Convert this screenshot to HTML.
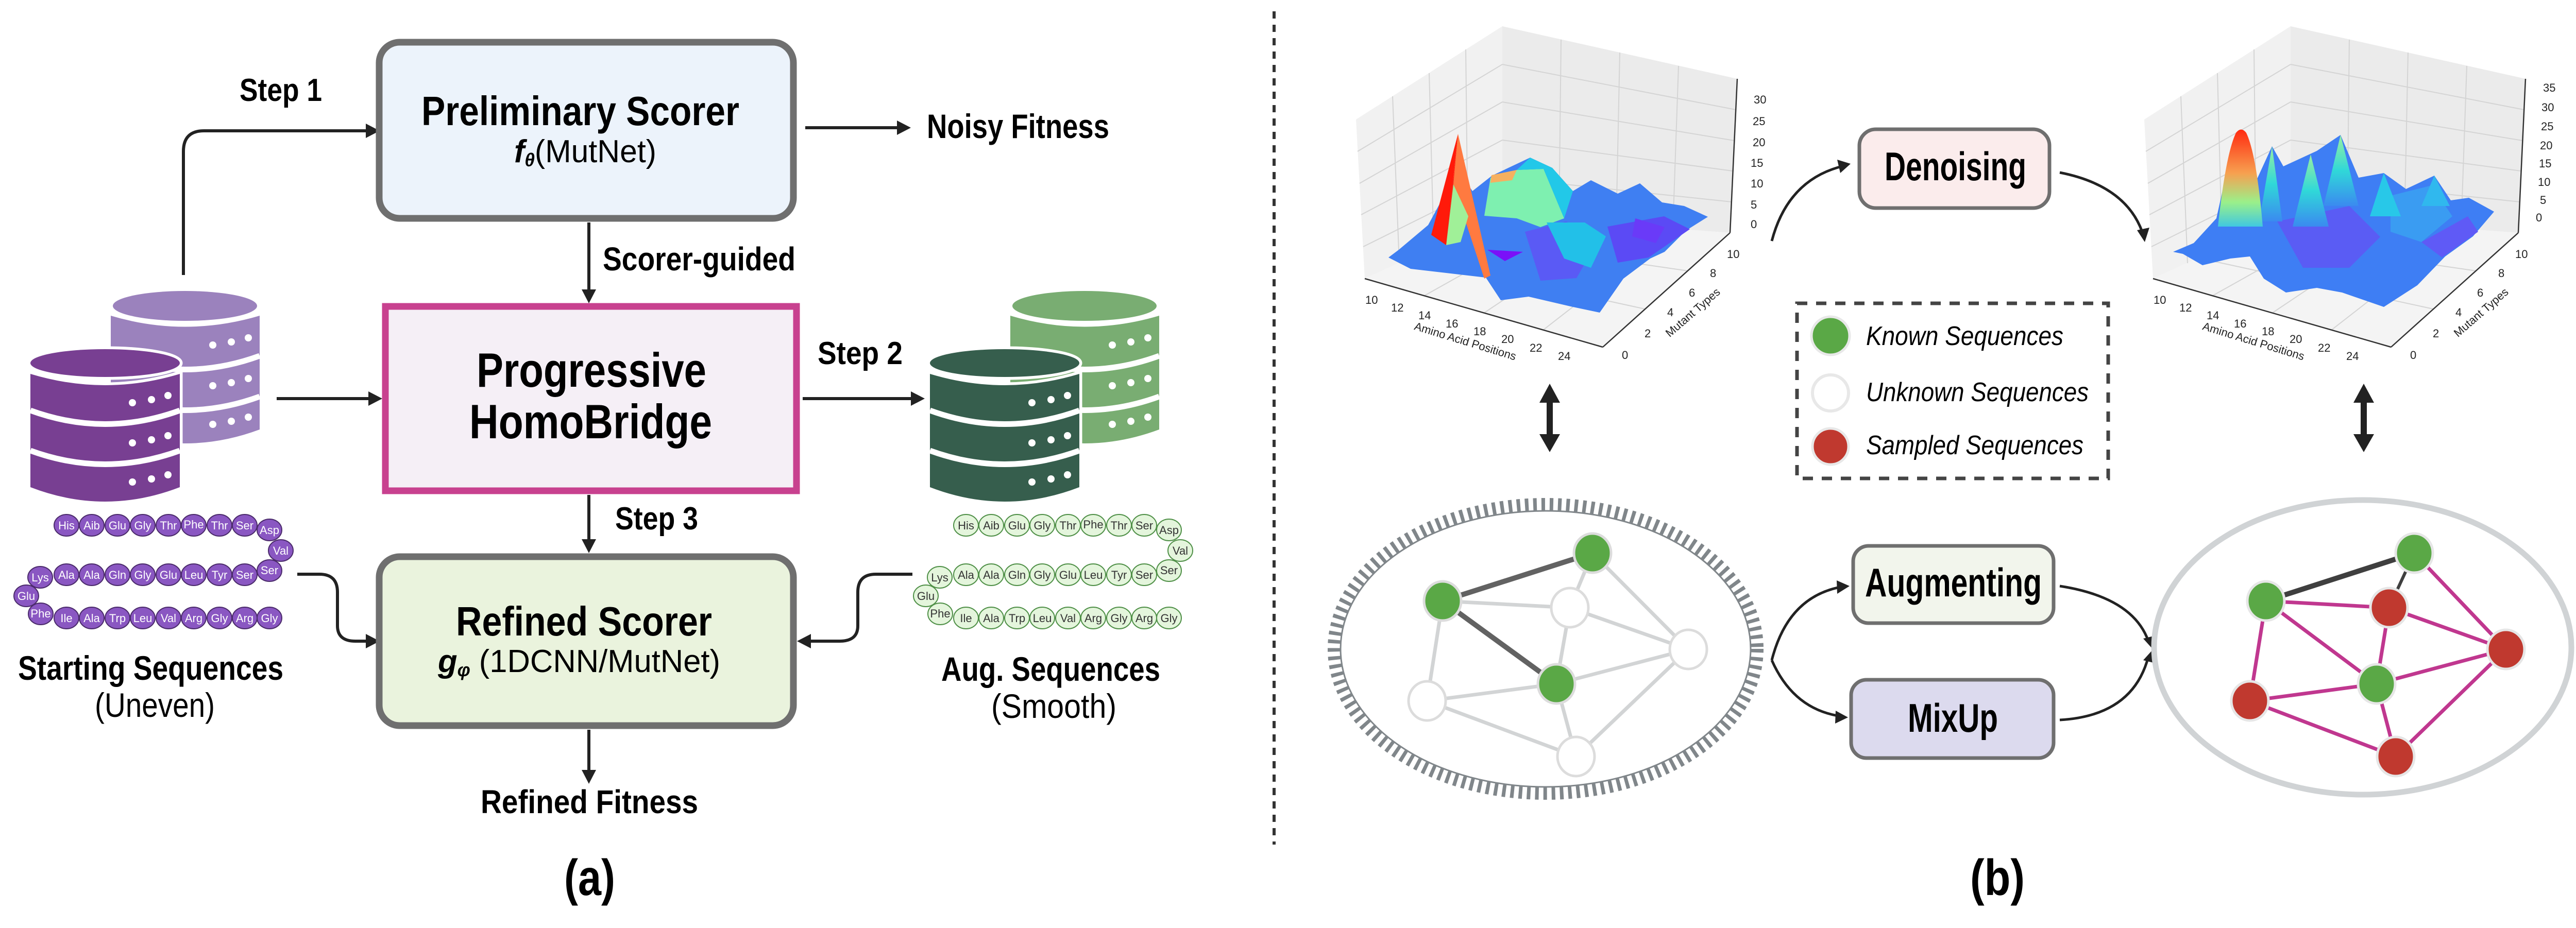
<!DOCTYPE html>
<html><head><meta charset="utf-8"><style>
html,body{margin:0;padding:0;background:#fff}
svg{display:block}
text{font-family:"Liberation Sans",sans-serif}
.b{font-weight:bold}
.pp text{font-size:22px;text-anchor:middle}
.tk{font-size:22px;fill:#222}
</style></head><body>
<svg width="5025" height="1802" viewBox="0 0 5025 1802" xmlns="http://www.w3.org/2000/svg">
<defs>
<linearGradient id="spk" x1="0" y1="0" x2="0" y2="1"><stop offset="0" stop-color="#ff2a10"/><stop offset="0.45" stop-color="#f7a050"/><stop offset="0.75" stop-color="#9af08a"/><stop offset="1" stop-color="#40c8e0"/></linearGradient>
<linearGradient id="gp" x1="0" y1="0" x2="0" y2="1"><stop offset="0" stop-color="#9af0a0"/><stop offset="0.5" stop-color="#30d8d8"/><stop offset="1" stop-color="#3a8af0"/></linearGradient>
</defs>

<!-- ============ PART A ============ -->
<g stroke="#222" stroke-width="6" fill="none">
<path d="M356,534 L356,294 Q356,254 396,254 L712,254"/>
<path d="M1563,248 L1745,248"/>
<path d="M1143,432 L1143,564"/>
<path d="M537,774 L718,774"/>
<path d="M1558,774 L1770,774"/>
<path d="M1143,961 L1143,1050"/>
<path d="M1143,1417 L1143,1498"/>
<path d="M577,1115 L620,1115 Q655,1115 655,1150 L655,1215 Q655,1245 690,1245 L714,1245"/>
<path d="M1771,1115 L1700,1115 Q1665,1115 1665,1150 L1665,1215 Q1665,1245 1630,1245 L1570,1245"/>
</g>
<g fill="#222">
<polygon points="737,254 710,240 710,268"/>
<polygon points="1768,248 1741,234 1741,262"/>
<polygon points="1143,589 1129,562 1157,562"/>
<polygon points="742,774 715,760 715,788"/>
<polygon points="1795,774 1768,760 1768,788"/>
<polygon points="1143,1074 1129,1047 1157,1047"/>
<polygon points="1143,1522 1129,1495 1157,1495"/>
<polygon points="737,1245 710,1231 710,1259"/>
<polygon points="1547,1245 1574,1231 1574,1259"/>
</g>

<rect x="736" y="82" width="804" height="342" rx="40" fill="#ecf3fb" stroke="#6f6f6f" stroke-width="13"/>
<rect x="748" y="595" width="798" height="358" fill="#f5eff6" stroke="#c8418f" stroke-width="13"/>
<rect x="736" y="1081" width="804" height="328" rx="40" fill="#eaf3dd" stroke="#6f6f6f" stroke-width="13"/>

<text class="b" x="818" y="243" font-size="80" textLength="617" lengthAdjust="spacingAndGlyphs">Preliminary Scorer</text>
<text x="998" y="315" font-size="62" textLength="276" lengthAdjust="spacingAndGlyphs"><tspan font-weight="bold" font-style="italic">f</tspan><tspan font-weight="bold" font-style="italic" font-size="36" dy="8">θ</tspan><tspan dy="-8">(MutNet)</tspan></text>
<text class="b" x="925" y="751" font-size="94" textLength="446" lengthAdjust="spacingAndGlyphs">Progressive</text>
<text class="b" x="911" y="851" font-size="94" textLength="471" lengthAdjust="spacingAndGlyphs">HomoBridge</text>
<text class="b" x="885" y="1234" font-size="80" textLength="497" lengthAdjust="spacingAndGlyphs">Refined Scorer</text>
<text x="850" y="1305" font-size="62" textLength="548" lengthAdjust="spacingAndGlyphs"><tspan font-weight="bold" font-style="italic">g</tspan><tspan font-weight="bold" font-style="italic" font-size="36" dy="8">φ</tspan><tspan dy="-8">  (1DCNN/MutNet)</tspan></text>

<text class="b" x="465" y="196" font-size="62" textLength="160" lengthAdjust="spacingAndGlyphs">Step 1</text>
<text class="b" x="1799" y="268" font-size="66" textLength="354" lengthAdjust="spacingAndGlyphs">Noisy Fitness</text>
<text class="b" x="1170" y="525" font-size="64" textLength="374" lengthAdjust="spacingAndGlyphs">Scorer-guided</text>
<text class="b" x="1587" y="707" font-size="62" textLength="165" lengthAdjust="spacingAndGlyphs">Step 2</text>
<text class="b" x="1194" y="1028" font-size="62" textLength="161" lengthAdjust="spacingAndGlyphs">Step 3</text>
<text class="b" x="933" y="1579" font-size="64" textLength="422" lengthAdjust="spacingAndGlyphs">Refined  Fitness</text>
<text class="b" x="35" y="1320" font-size="66" textLength="515" lengthAdjust="spacingAndGlyphs">Starting Sequences</text>
<text x="184" y="1392" font-size="66" textLength="233" lengthAdjust="spacingAndGlyphs">(Uneven)</text>
<text class="b" x="1827" y="1322" font-size="66" textLength="425" lengthAdjust="spacingAndGlyphs">Aug. Sequences</text>
<text x="1924" y="1394" font-size="66" textLength="243" lengthAdjust="spacingAndGlyphs">(Smooth)</text>
<text class="b" x="1095" y="1738" font-size="98" textLength="99" lengthAdjust="spacingAndGlyphs">(a)</text>

<!-- databases left -->
<g>
<g fill="#9b82bd">
<ellipse cx="359" cy="594" rx="140" ry="29"/>
<path d="M215,613 Q359,656 504,613 L504,834 Q359,888 215,834 Z"/>
</g>
<g stroke="#fff" stroke-width="11" fill="none">
<path d="M215,691 Q359,744 504,691"/><path d="M215,770 Q359,823 504,770"/>
</g>
<g fill="#fff"><circle cx="413" cy="670" r="7"/><circle cx="449" cy="664" r="7"/><circle cx="482" cy="656" r="7"/>
<circle cx="413" cy="749" r="7"/><circle cx="449" cy="743" r="7"/><circle cx="482" cy="735" r="7"/>
<circle cx="413" cy="824" r="7"/><circle cx="449" cy="818" r="7"/><circle cx="482" cy="810" r="7"/></g>
<g fill="#783f92" stroke="#fff" stroke-width="11" paint-order="stroke">
<path d="M59,726 Q204,770 349,726 L349,946 Q204,1002 59,946 Z"/>
<ellipse cx="204" cy="705" rx="145" ry="27"/>
</g>
<g stroke="#fff" stroke-width="11" fill="none">
<path d="M59,797 Q204,850 349,797"/><path d="M59,875 Q204,928 349,875"/>
</g>
<g fill="#fff"><circle cx="257" cy="782" r="7"/><circle cx="294" cy="776" r="7"/><circle cx="326" cy="768" r="7"/>
<circle cx="257" cy="860" r="7"/><circle cx="294" cy="854" r="7"/><circle cx="326" cy="846" r="7"/>
<circle cx="257" cy="936" r="7"/><circle cx="294" cy="930" r="7"/><circle cx="326" cy="922" r="7"/></g>
</g>
<g transform="translate(1746,0)">
<g fill="#79ad72">
<ellipse cx="359" cy="594" rx="140" ry="29"/>
<path d="M215,613 Q359,656 504,613 L504,834 Q359,888 215,834 Z"/>
</g>
<g stroke="#fff" stroke-width="11" fill="none">
<path d="M215,691 Q359,744 504,691"/><path d="M215,770 Q359,823 504,770"/>
</g>
<g fill="#fff"><circle cx="413" cy="670" r="7"/><circle cx="449" cy="664" r="7"/><circle cx="482" cy="656" r="7"/>
<circle cx="413" cy="749" r="7"/><circle cx="449" cy="743" r="7"/><circle cx="482" cy="735" r="7"/>
<circle cx="413" cy="824" r="7"/><circle cx="449" cy="818" r="7"/><circle cx="482" cy="810" r="7"/></g>
<g fill="#365e4d" stroke="#fff" stroke-width="11" paint-order="stroke">
<path d="M59,726 Q204,770 349,726 L349,946 Q204,1002 59,946 Z"/>
<ellipse cx="204" cy="705" rx="145" ry="27"/>
</g>
<g stroke="#fff" stroke-width="11" fill="none">
<path d="M59,797 Q204,850 349,797"/><path d="M59,875 Q204,928 349,875"/>
</g>
<g fill="#fff"><circle cx="257" cy="782" r="7"/><circle cx="294" cy="776" r="7"/><circle cx="326" cy="768" r="7"/>
<circle cx="257" cy="860" r="7"/><circle cx="294" cy="854" r="7"/><circle cx="326" cy="846" r="7"/>
<circle cx="257" cy="936" r="7"/><circle cx="294" cy="930" r="7"/><circle cx="326" cy="922" r="7"/></g>
</g>

<!-- peptide chains left -->
<g class="pp">
<g fill="#8a57c2" stroke="#4a2a6a" stroke-width="2">
<ellipse cx="129" cy="1020" rx="24" ry="21"/><ellipse cx="178" cy="1020" rx="24" ry="21"/><ellipse cx="228" cy="1020" rx="24" ry="21"/><ellipse cx="277" cy="1020" rx="24" ry="21"/><ellipse cx="327" cy="1020" rx="24" ry="21"/><ellipse cx="376" cy="1020" rx="24" ry="21"/><ellipse cx="426" cy="1020" rx="24" ry="21"/><ellipse cx="475" cy="1020" rx="24" ry="21"/><ellipse cx="523" cy="1029" rx="24" ry="21"/>
<ellipse cx="545" cy="1069" rx="24" ry="21"/>
<ellipse cx="523" cy="1108" rx="24" ry="21"/><ellipse cx="475" cy="1116" rx="24" ry="21"/><ellipse cx="426" cy="1116" rx="24" ry="21"/><ellipse cx="376" cy="1116" rx="24" ry="21"/><ellipse cx="327" cy="1116" rx="24" ry="21"/><ellipse cx="277" cy="1116" rx="24" ry="21"/><ellipse cx="228" cy="1116" rx="24" ry="21"/><ellipse cx="178" cy="1116" rx="24" ry="21"/><ellipse cx="129" cy="1116" rx="24" ry="21"/><ellipse cx="78" cy="1121" rx="24" ry="21"/>
<ellipse cx="51" cy="1157" rx="24" ry="21"/>
<ellipse cx="79" cy="1192" rx="24" ry="21"/><ellipse cx="129" cy="1200" rx="24" ry="21"/><ellipse cx="178" cy="1200" rx="24" ry="21"/><ellipse cx="228" cy="1200" rx="24" ry="21"/><ellipse cx="277" cy="1200" rx="24" ry="21"/><ellipse cx="327" cy="1200" rx="24" ry="21"/><ellipse cx="376" cy="1200" rx="24" ry="21"/><ellipse cx="426" cy="1200" rx="24" ry="21"/><ellipse cx="475" cy="1200" rx="24" ry="21"/><ellipse cx="523" cy="1200" rx="24" ry="21"/>
</g>
<g fill="#fff">
<text x="129" y="1028">His</text><text x="178" y="1028">Aib</text><text x="228" y="1028">Glu</text><text x="277" y="1028">Gly</text><text x="327" y="1028">Thr</text><text x="376" y="1026">Phe</text><text x="426" y="1028">Thr</text><text x="475" y="1028">Ser</text><text x="523" y="1037">Asp</text>
<text x="545" y="1077">Val</text>
<text x="523" y="1115">Ser</text><text x="475" y="1124">Ser</text><text x="426" y="1124">Tyr</text><text x="376" y="1124">Leu</text><text x="327" y="1124">Glu</text><text x="277" y="1124">Gly</text><text x="228" y="1124">Gln</text><text x="178" y="1124">Ala</text><text x="129" y="1124">Ala</text><text x="78" y="1129">Lys</text>
<text x="51" y="1165">Glu</text>
<text x="79" y="1199">Phe</text><text x="129" y="1208">Ile</text><text x="178" y="1208">Ala</text><text x="228" y="1208">Trp</text><text x="277" y="1208">Leu</text><text x="327" y="1208">Val</text><text x="376" y="1208">Arg</text><text x="426" y="1208">Gly</text><text x="475" y="1208">Arg</text><text x="523" y="1208">Gly</text>
</g>
</g>
<g class="pp" transform="translate(1746,0)">
<g fill="#e4f5dc" stroke="#4e8f46" stroke-width="2">
<ellipse cx="129" cy="1020" rx="24" ry="21"/><ellipse cx="178" cy="1020" rx="24" ry="21"/><ellipse cx="228" cy="1020" rx="24" ry="21"/><ellipse cx="277" cy="1020" rx="24" ry="21"/><ellipse cx="327" cy="1020" rx="24" ry="21"/><ellipse cx="376" cy="1020" rx="24" ry="21"/><ellipse cx="426" cy="1020" rx="24" ry="21"/><ellipse cx="475" cy="1020" rx="24" ry="21"/><ellipse cx="523" cy="1029" rx="24" ry="21"/>
<ellipse cx="545" cy="1069" rx="24" ry="21"/>
<ellipse cx="523" cy="1108" rx="24" ry="21"/><ellipse cx="475" cy="1116" rx="24" ry="21"/><ellipse cx="426" cy="1116" rx="24" ry="21"/><ellipse cx="376" cy="1116" rx="24" ry="21"/><ellipse cx="327" cy="1116" rx="24" ry="21"/><ellipse cx="277" cy="1116" rx="24" ry="21"/><ellipse cx="228" cy="1116" rx="24" ry="21"/><ellipse cx="178" cy="1116" rx="24" ry="21"/><ellipse cx="129" cy="1116" rx="24" ry="21"/><ellipse cx="78" cy="1121" rx="24" ry="21"/>
<ellipse cx="51" cy="1157" rx="24" ry="21"/>
<ellipse cx="79" cy="1192" rx="24" ry="21"/><ellipse cx="129" cy="1200" rx="24" ry="21"/><ellipse cx="178" cy="1200" rx="24" ry="21"/><ellipse cx="228" cy="1200" rx="24" ry="21"/><ellipse cx="277" cy="1200" rx="24" ry="21"/><ellipse cx="327" cy="1200" rx="24" ry="21"/><ellipse cx="376" cy="1200" rx="24" ry="21"/><ellipse cx="426" cy="1200" rx="24" ry="21"/><ellipse cx="475" cy="1200" rx="24" ry="21"/><ellipse cx="523" cy="1200" rx="24" ry="21"/>
</g>
<g fill="#333">
<text x="129" y="1028">His</text><text x="178" y="1028">Aib</text><text x="228" y="1028">Glu</text><text x="277" y="1028">Gly</text><text x="327" y="1028">Thr</text><text x="376" y="1026">Phe</text><text x="426" y="1028">Thr</text><text x="475" y="1028">Ser</text><text x="523" y="1037">Asp</text>
<text x="545" y="1077">Val</text>
<text x="523" y="1115">Ser</text><text x="475" y="1124">Ser</text><text x="426" y="1124">Tyr</text><text x="376" y="1124">Leu</text><text x="327" y="1124">Glu</text><text x="277" y="1124">Gly</text><text x="228" y="1124">Gln</text><text x="178" y="1124">Ala</text><text x="129" y="1124">Ala</text><text x="78" y="1129">Lys</text>
<text x="51" y="1165">Glu</text>
<text x="79" y="1199">Phe</text><text x="129" y="1208">Ile</text><text x="178" y="1208">Ala</text><text x="228" y="1208">Trp</text><text x="277" y="1208">Leu</text><text x="327" y="1208">Val</text><text x="376" y="1208">Arg</text><text x="426" y="1208">Gly</text><text x="475" y="1208">Arg</text><text x="523" y="1208">Gly</text>
</g>
</g>

<line x1="2473" y1="22" x2="2473" y2="1640" stroke="#333" stroke-width="6" stroke-dasharray="14 12"/>

<!-- ============ PART B ============ -->
<g>
<polygon points="2632,232 2916,51 2916,419 2649,541" fill="#f1f1f1"/>
<polygon points="2916,51 3372,153 3358,452 2916,419" fill="#ebebeb"/>
<polygon points="2649,541 2916,419 3358,452 3111,674" fill="#f4f4f4"/>
<g stroke="#d4d4d4" stroke-width="2" fill="none">
<line x1="3030" y1="77" x2="3026" y2="427"/><line x1="3144" y1="102" x2="3137" y2="436"/><line x1="3258" y1="128" x2="3247" y2="444"/>
<line x1="2916" y1="125" x2="3369" y2="213"/><line x1="2916" y1="198" x2="3366" y2="273"/><line x1="2916" y1="272" x2="3363" y2="332"/><line x1="2916" y1="345" x2="3361" y2="392"/>
<line x1="2703" y1="187" x2="2716" y2="511"/><line x1="2774" y1="142" x2="2783" y2="480"/><line x1="2845" y1="96" x2="2849" y2="450"/>
<line x1="2635" y1="294" x2="2916" y2="125"/><line x1="2639" y1="356" x2="2916" y2="198"/><line x1="2642" y1="417" x2="2916" y2="272"/><line x1="2646" y1="479" x2="2916" y2="345"/>
<line x1="2765" y1="574" x2="3027" y2="427"/><line x1="2880" y1="608" x2="3137" y2="436"/><line x1="2995" y1="641" x2="3248" y2="444"/>
<line x1="2737" y1="501" x2="3193" y2="600"/><line x1="2825" y1="460" x2="3276" y2="526"/>
</g>
<g stroke="#333" stroke-width="2.5" fill="none">
<line x1="2649" y1="541" x2="3111" y2="674"/><line x1="3111" y1="674" x2="3358" y2="452"/><line x1="3372" y1="153" x2="3358" y2="452"/>
</g>
</g>
<g transform="translate(1530,0)">
<polygon points="2632,232 2916,51 2916,419 2649,541" fill="#f1f1f1"/>
<polygon points="2916,51 3372,153 3358,452 2916,419" fill="#ebebeb"/>
<polygon points="2649,541 2916,419 3358,452 3111,674" fill="#f4f4f4"/>
<g stroke="#d4d4d4" stroke-width="2" fill="none">
<line x1="3030" y1="77" x2="3026" y2="427"/><line x1="3144" y1="102" x2="3137" y2="436"/><line x1="3258" y1="128" x2="3247" y2="444"/>
<line x1="2916" y1="125" x2="3369" y2="213"/><line x1="2916" y1="198" x2="3366" y2="273"/><line x1="2916" y1="272" x2="3363" y2="332"/><line x1="2916" y1="345" x2="3361" y2="392"/>
<line x1="2703" y1="187" x2="2716" y2="511"/><line x1="2774" y1="142" x2="2783" y2="480"/><line x1="2845" y1="96" x2="2849" y2="450"/>
<line x1="2635" y1="294" x2="2916" y2="125"/><line x1="2639" y1="356" x2="2916" y2="198"/><line x1="2642" y1="417" x2="2916" y2="272"/><line x1="2646" y1="479" x2="2916" y2="345"/>
<line x1="2765" y1="574" x2="3027" y2="427"/><line x1="2880" y1="608" x2="3137" y2="436"/><line x1="2995" y1="641" x2="3248" y2="444"/>
<line x1="2737" y1="501" x2="3193" y2="600"/><line x1="2825" y1="460" x2="3276" y2="526"/>
</g>
<g stroke="#333" stroke-width="2.5" fill="none">
<line x1="2649" y1="541" x2="3111" y2="674"/><line x1="3111" y1="674" x2="3358" y2="452"/><line x1="3372" y1="153" x2="3358" y2="452"/>
</g>
</g>

<polygon points="2695,500 2715,485 2772,437 2830,330 2858,371 2896,341 2970,306 3013,326 3053,371 3088,350 3140,376 3183,356 3226,393 3269,400 3315,421 3272,448 3231,489 3203,502 3151,541 3105,607 3053,596 2967,576 2913,583 2884,539 2738,522" fill="#3f7ff2"/>
<polygon points="2960,450 3040,430 3100,470 3060,540 2990,545" fill="#5a5af5"/>
<polygon points="3120,440 3230,420 3280,445 3200,500 3140,510" fill="#5b4af5"/>
<polygon points="2887,485 2956,489 2921,507" fill="#7a10f8"/>
<polygon points="3174,424 3231,441 3214,472 3168,459" fill="#6a3af8"/>
<polygon points="2893,345 2944,330 2996,328 3036,424 2990,441 2944,424 2881,419" fill="#7ef0b0"/>
<polygon points="2944,330 2970,306 3013,326 3053,371 3036,424 2996,328" fill="#22c8e8"/>
<polygon points="3002,432 3076,432 3117,459 3088,520 3036,502" fill="#22c0e8"/>
<polygon points="2895,340 2944,330 2935,350 2893,355" fill="#f6b060"/>
<polygon points="2778,456 2830,260 2807,476" fill="#ff1a0a"/>
<polygon points="2807,476 2830,260 2820,430" fill="#ff2a10"/>
<polygon points="2830,260 2893,535 2881,541 2821,358" fill="#ff7a40"/>
<polygon points="2807,476 2821,358 2850,420 2835,470" fill="#a0f098"/>

<polygon points="4218,489 4258,472 4302,424 4329,302 4348,254 4372,367 4410,284 4432,323 4497,293 4543,262 4578,345 4627,336 4670,367 4725,341 4757,389 4792,384 4841,411 4800,459 4746,498 4692,554 4627,596 4546,568 4497,559 4437,568 4394,541 4367,498 4329,502 4275,515 4237,493" fill="#3e7ef4"/>
<polygon points="4420,430 4560,400 4620,460 4560,520 4470,520" fill="#5a5cf4"/>
<polygon points="4640,380 4720,360 4760,420 4700,470 4640,450" fill="#3a9cf2"/>
<polygon points="4700,470 4790,420 4810,450 4740,500" fill="#5f5af6"/>
<polygon points="4385,430 4410,284 4430,430" fill="url(#gp)"/>
<polygon points="4450,440 4485,300 4520,440" fill="url(#gp)"/>
<polygon points="4510,400 4543,262 4578,400" fill="url(#gp)"/>
<polygon points="4600,420 4627,336 4660,420" fill="#28c8e8"/>
<polygon points="4700,400 4725,341 4755,400" fill="#30b8ee"/>
<path d="M4305,440 Q4320,300 4340,258 Q4350,245 4360,258 Q4380,300 4392,440 Z" fill="url(#spk)"/>

<g class="tk">
<text x="3404" y="201">30</text><text x="3402" y="243">25</text><text x="3402" y="284">20</text><text x="3398" y="324">15</text><text x="3398" y="364">10</text><text x="3398" y="405">5</text><text x="3398" y="443">0</text>
<text x="2650" y="590">10</text><text x="2700" y="605">12</text><text x="2753" y="620">14</text><text x="2806" y="636">16</text><text x="2860" y="651">18</text><text x="2914" y="666">20</text><text x="2969" y="683">22</text><text x="3024" y="699">24</text>
<text x="3148" y="697">0</text><text x="3192" y="655">2</text><text x="3236" y="614">4</text><text x="3278" y="576">6</text><text x="3319" y="538">8</text><text x="3352" y="501">10</text>
<text x="2844" y="670" text-anchor="middle" transform="rotate(17 2844 663)">Amino Acid Positions</text>
<text x="3286" y="614" text-anchor="middle" transform="rotate(-41 3286 607)">Mutant Types</text>
</g>
<g class="tk">
<text x="4936" y="178">35</text><text x="4933" y="216">30</text><text x="4932" y="253">25</text><text x="4930" y="290">20</text><text x="4928" y="325">15</text><text x="4926" y="361">10</text><text x="4930" y="396">5</text><text x="4922" y="430">0</text>
<text x="4180" y="590">10</text><text x="4230" y="605">12</text><text x="4283" y="620">14</text><text x="4336" y="636">16</text><text x="4390" y="651">18</text><text x="4444" y="666">20</text><text x="4499" y="683">22</text><text x="4554" y="699">24</text>
<text x="4678" y="697">0</text><text x="4722" y="655">2</text><text x="4766" y="614">4</text><text x="4808" y="576">6</text><text x="4849" y="538">8</text><text x="4882" y="501">10</text>
<text x="4374" y="670" text-anchor="middle" transform="rotate(17 4374 663)">Amino Acid Positions</text>
<text x="4816" y="614" text-anchor="middle" transform="rotate(-41 4816 607)">Mutant Types</text>
</g>

<rect x="3609" y="251" width="369" height="153" rx="32" fill="#fbecec" stroke="#6f6f6f" stroke-width="7"/>
<text class="b" x="3658" y="350" font-size="78" textLength="275" lengthAdjust="spacingAndGlyphs">Denoising</text>
<g stroke="#222" stroke-width="5" fill="none">
<path d="M3439,468 Q3470,350 3575,323"/>
<path d="M3998,335 Q4125,360 4158,450"/>
</g>
<polygon points="3592,318 3566,310 3572,336" fill="#222"/>
<polygon points="4163,470 4148,447 4172,442" fill="#222"/>

<rect x="3488" y="589" width="604" height="340" fill="none" stroke="#444" stroke-width="7" stroke-dasharray="20 17"/>
<circle cx="3553" cy="652" r="37" fill="#5aa846" stroke="#e8e8e8" stroke-width="5"/>
<circle cx="3553" cy="763" r="35" fill="#fff" stroke="#e8e8e8" stroke-width="6"/>
<circle cx="3553" cy="867" r="35" fill="#c0392f" stroke="#e8e8e8" stroke-width="5"/>
<g font-style="italic" font-size="52">
<text x="3622" y="670" textLength="383" lengthAdjust="spacingAndGlyphs">Known  Sequences</text>
<text x="3622" y="779" textLength="432" lengthAdjust="spacingAndGlyphs">Unknown  Sequences</text>
<text x="3622" y="882" textLength="422" lengthAdjust="spacingAndGlyphs">Sampled  Sequences</text>
</g>

<g fill="#222">
<rect x="3002" y="775" width="12" height="75"/><polygon points="3008,745 2988,782 3028,782"/><polygon points="3008,878 2988,843 3028,843"/>
<rect x="4582" y="775" width="12" height="75"/><polygon points="4588,745 4568,782 4608,782"/><polygon points="4588,878 4568,843 4608,843"/>
</g>

<ellipse cx="3000" cy="1260" rx="410" ry="280" fill="none" stroke="#80868a" stroke-width="26" stroke-dasharray="7 9"/>
<ellipse cx="3000" cy="1260" rx="398" ry="268" fill="none" stroke="#80868a" stroke-width="3"/>
<g stroke="#d2d4d5" stroke-width="7">
<line x1="2800" y1="1167" x2="3047" y2="1180"/><line x1="2800" y1="1167" x2="2770" y2="1361"/>
<line x1="3091" y1="1074" x2="3047" y2="1180"/><line x1="3091" y1="1074" x2="3277" y2="1261"/>
<line x1="3047" y1="1180" x2="3277" y2="1261"/><line x1="3047" y1="1180" x2="3021" y2="1328"/>
<line x1="3277" y1="1261" x2="3021" y2="1328"/><line x1="3277" y1="1261" x2="3059" y2="1469"/>
<line x1="3021" y1="1328" x2="2770" y2="1361"/><line x1="3021" y1="1328" x2="3059" y2="1469"/>
<line x1="2770" y1="1361" x2="3059" y2="1469"/>
</g>
<g stroke="#626262" stroke-width="10">
<line x1="2800" y1="1167" x2="3091" y2="1074"/><line x1="2800" y1="1167" x2="3021" y2="1328"/>
</g>
<g stroke="#dcdcdc" stroke-width="5">
<ellipse cx="3091" cy="1074" rx="36" ry="38" fill="#5aa846"/>
<ellipse cx="2800" cy="1167" rx="36" ry="38" fill="#5aa846"/>
<ellipse cx="3047" cy="1180" rx="36" ry="38" fill="#fff"/>
<ellipse cx="3277" cy="1261" rx="36" ry="38" fill="#fff"/>
<ellipse cx="3021" cy="1328" rx="36" ry="38" fill="#5aa846"/>
<ellipse cx="2770" cy="1361" rx="36" ry="38" fill="#fff"/>
<ellipse cx="3059" cy="1469" rx="36" ry="38" fill="#fff"/>
</g>

<rect x="3597" y="1060" width="389" height="150" rx="30" fill="#f2f5ec" stroke="#6f6f6f" stroke-width="7"/>
<text class="b" x="3620" y="1158" font-size="78" textLength="343" lengthAdjust="spacingAndGlyphs">Augmenting</text>
<rect x="3593" y="1320" width="393" height="152" rx="30" fill="#dcdaee" stroke="#6f6f6f" stroke-width="7"/>
<text class="b" x="3703" y="1421" font-size="78" textLength="175" lengthAdjust="spacingAndGlyphs">MixUp</text>
<g stroke="#222" stroke-width="5" fill="none">
<path d="M3439,1282 Q3470,1160 3572,1140"/>
<path d="M3439,1282 Q3480,1375 3568,1390"/>
<path d="M3998,1138 Q4140,1160 4170,1245"/>
<path d="M3998,1398 Q4140,1390 4170,1275"/>
</g>
<polygon points="3590,1138 3565,1127 3566,1153" fill="#222"/>
<polygon points="3587,1393 3563,1380 3562,1405" fill="#222"/>
<polygon points="4178,1260 4160,1240 4180,1235" fill="#222"/>
<polygon points="4178,1262 4160,1282 4180,1287" fill="#222"/>

<ellipse cx="4586" cy="1257" rx="405" ry="286" fill="#fff" stroke="#d0d3d5" stroke-width="11"/>
<g stroke="#c0378f" stroke-width="7">
<line x1="4398" y1="1167" x2="4637" y2="1180"/><line x1="4398" y1="1167" x2="4367" y2="1361"/><line x1="4398" y1="1167" x2="4613" y2="1328"/>
<line x1="4686" y1="1074" x2="4864" y2="1261"/>
<line x1="4637" y1="1180" x2="4864" y2="1261"/><line x1="4637" y1="1180" x2="4613" y2="1328"/>
<line x1="4864" y1="1261" x2="4613" y2="1328"/><line x1="4864" y1="1261" x2="4650" y2="1469"/>
<line x1="4613" y1="1328" x2="4367" y2="1361"/><line x1="4613" y1="1328" x2="4650" y2="1469"/>
<line x1="4367" y1="1361" x2="4650" y2="1469"/>
</g>
<g stroke="#3f3f3f">
<line x1="4398" y1="1167" x2="4686" y2="1074" stroke-width="10"/><line x1="4686" y1="1074" x2="4637" y2="1180" stroke-width="6"/>
</g>
<g stroke="#e6e6e6" stroke-width="5">
<ellipse cx="4686" cy="1074" rx="36" ry="38" fill="#5aa846"/>
<ellipse cx="4398" cy="1167" rx="36" ry="38" fill="#5aa846"/>
<ellipse cx="4637" cy="1180" rx="36" ry="38" fill="#c0392f"/>
<ellipse cx="4864" cy="1261" rx="36" ry="38" fill="#c0392f"/>
<ellipse cx="4613" cy="1328" rx="36" ry="38" fill="#5aa846"/>
<ellipse cx="4367" cy="1361" rx="36" ry="38" fill="#c0392f"/>
<ellipse cx="4650" cy="1469" rx="36" ry="38" fill="#c0392f"/>
</g>

<text class="b" x="3824" y="1738" font-size="98" textLength="106" lengthAdjust="spacingAndGlyphs">(b)</text>
</svg>
</body></html>
